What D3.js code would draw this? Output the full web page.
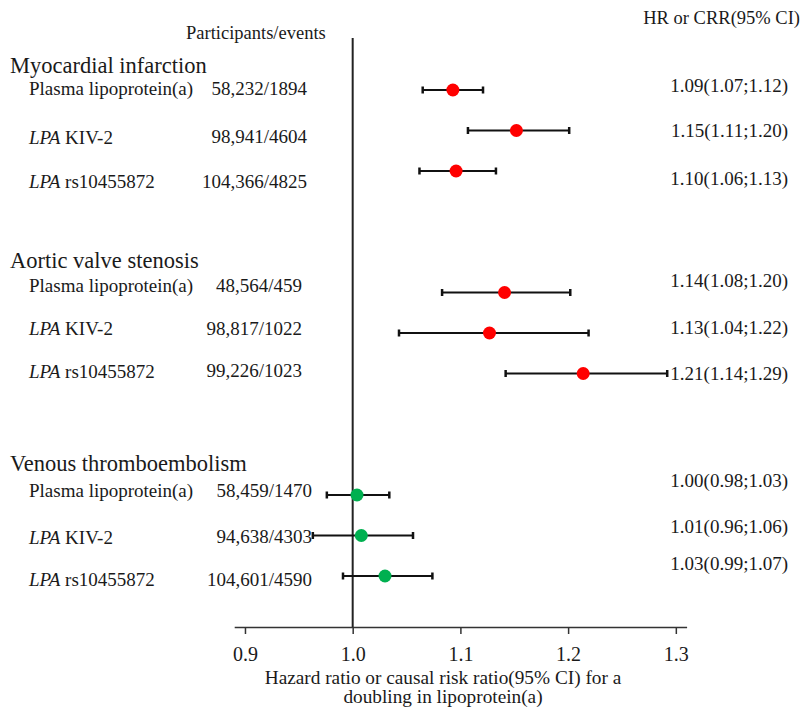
<!DOCTYPE html>
<html>
<head>
<meta charset="utf-8">
<script src="https://cdn.jsdelivr.net/npm/d3@7"></script>
<style>
  body { margin: 0; background: #fff; }
  svg text { font-family: "Liberation Serif", "Times New Roman", serif; fill: #1a1a1a; }
</style>
</head>
<body>
<div id="chart"></div>
<script>
// forest plot data
var groups = ["Myocardial infarction", "Aortic valve stenosis", "Venous thromboembolism"];
var exposures = ["Plasma lipoprotein(a)", "LPA KIV-2", "LPA rs10455872"];
var participants = ["58,232/1894", "98,941/4604", "104,366/4825",
                    "48,564/459", "98,817/1022", "99,226/1023",
                    "58,459/1470", "94,638/4303", "104,601/4590"];
var hrLabels = ["1.09(1.07;1.12)", "1.15(1.11;1.20)", "1.10(1.06;1.13)",
                "1.14(1.08;1.20)", "1.13(1.04;1.22)", "1.21(1.14;1.29)",
                "1.00(0.98;1.03)", "1.01(0.96;1.06)", "1.03(0.99;1.07)"];
var hr    = [1.093, 1.152, 1.096, 1.141, 1.127, 1.214, 1.004, 1.008, 1.030];
var lower = [1.065, 1.107, 1.062, 1.083, 1.043, 1.142, 0.976, 0.963, 0.991];
var upper = [1.121, 1.201, 1.133, 1.202, 1.219, 1.292, 1.034, 1.056, 1.074];
var groupColors = ["#ff0000", "#ff0000", "#00b050"];
var xTicks = [0.9, 1.0, 1.1, 1.2, 1.3];

// layout tweaks (text sits a little off the marker rows in the original)
var leftShift  = [-2, 6, 10, -7, -5, -3, -5, 1, 3];
var rightShift = [-5, 0, 7, -12, -6, 0, -15, -9, -13];
var headShift  = [-25, -32, -32];
var numRight   = [307, 302, 312];

var svg = d3.select("#chart").append("svg")
    .attr("width", 805).attr("height", 707);

var x = d3.scaleLinear().domain([0.89, 1.31]).range([234.2, 686.6]);
// row slot: 3 rows per group plus 2 empty slots between groups
var y = d3.scaleLinear().domain([0, 12]).range([90, 576]);
var slot = function(i) { return Math.floor(i / 3) * 5 + (i % 3); };

var rows = hr.map(function(v, i) {
    return { i: i, g: Math.floor(i / 3), hr: v, lo: lower[i], hi: upper[i],
             name: exposures[i % 3], n: participants[i], lab: hrLabels[i] };
});

// x axis
var axis = svg.append("g")
    .attr("transform", "translate(0,627)")
    .call(d3.axisBottom(x).tickValues(xTicks).tickFormat(d3.format(".1f"))
          .tickSizeOuter(0).tickSizeInner(7).tickPadding(13));
axis.select(".domain").attr("stroke", "#333").attr("stroke-width", 1.5);
axis.selectAll(".tick line").attr("stroke", "#333").attr("stroke-width", 1.5);
axis.selectAll(".tick text")
    .style("font-family", "Liberation Serif, serif")
    .style("font-size", "20px").attr("fill", "#1a1a1a");

// reference line at 1
svg.append("line")
    .attr("x1", x(1)).attr("x2", x(1))
    .attr("y1", 38).attr("y2", 627)
    .attr("stroke", "#222").attr("stroke-width", 2);

// axis title
svg.append("text").attr("x", 443).attr("y", 684)
    .attr("text-anchor", "middle").style("font-size", "19.3px")
    .text("Hazard ratio or causal risk ratio(95% CI) for a");
svg.append("text").attr("x", 443).attr("y", 703)
    .attr("text-anchor", "middle").style("font-size", "19.3px")
    .text("doubling in lipoprotein(a)");

// column headers
svg.append("text").attr("x", 186).attr("y", 39)
    .style("font-size", "18.5px").text("Participants/events");
svg.append("text").attr("x", 800).attr("y", 24)
    .attr("text-anchor", "end").style("font-size", "18.5px").text("HR or CRR(95% CI)");

// group headers
svg.selectAll(".grp").data(groups).enter().append("text")
    .attr("class", "grp")
    .attr("x", 10)
    .attr("y", function(d, g) { return y(g * 5) + headShift[g]; })
    .attr("dominant-baseline", "central")
    .style("font-size", "22.5px")
    .text(function(d) { return d; });

// exposure labels, LPA in italics
var names = svg.selectAll(".name").data(rows).enter().append("text")
    .attr("class", "name")
    .attr("x", 29)
    .attr("y", function(d) { return y(slot(d.i)) + leftShift[d.i]; })
    .attr("dominant-baseline", "central")
    .style("font-size", "19px");
names.each(function(d) {
    var t = d3.select(this);
    if (d.name.indexOf("LPA ") === 0) {
        t.append("tspan").style("font-style", "italic").text("LPA");
        t.append("tspan").text(d.name.slice(3));
    } else {
        t.text(d.name);
    }
});

// participants/events
svg.selectAll(".num").data(rows).enter().append("text")
    .attr("class", "num")
    .attr("x", function(d) { return numRight[d.g]; })
    .attr("y", function(d) { return y(slot(d.i)) + leftShift[d.i]; })
    .attr("text-anchor", "end")
    .attr("dominant-baseline", "central")
    .style("font-size", "19px")
    .text(function(d) { return d.n; });

// HR text column
svg.selectAll(".hrlab").data(rows).enter().append("text")
    .attr("class", "hrlab")
    .attr("x", 788)
    .attr("y", function(d) { return y(slot(d.i)) + rightShift[d.i]; })
    .attr("text-anchor", "end")
    .attr("dominant-baseline", "central")
    .style("font-size", "19px")
    .text(function(d) { return d.lab; });

// confidence intervals
var ci = svg.append("g").selectAll("g").data(rows).enter().append("g");
ci.append("line")
    .attr("x1", function(d) { return x(d.lo); })
    .attr("x2", function(d) { return x(d.hi); })
    .attr("y1", function(d) { return y(slot(d.i)); })
    .attr("y2", function(d) { return y(slot(d.i)); })
    .attr("stroke", "#111").attr("stroke-width", 2.2);
["lo", "hi"].forEach(function(k) {
    ci.append("line")
        .attr("x1", function(d) { return x(d[k]); })
        .attr("x2", function(d) { return x(d[k]); })
        .attr("y1", function(d) { return y(slot(d.i)) - 3.5; })
        .attr("y2", function(d) { return y(slot(d.i)) + 3.5; })
        .attr("stroke", "#111").attr("stroke-width", 2.5);
});

// point estimates
svg.append("g").selectAll("circle").data(rows).enter().append("circle")
    .attr("cx", function(d) { return x(d.hr); })
    .attr("cy", function(d) { return y(slot(d.i)); })
    .attr("r", 6.5)
    .style("fill", function(d) { return groupColors[d.g]; });
</script>
</body>
</html>
